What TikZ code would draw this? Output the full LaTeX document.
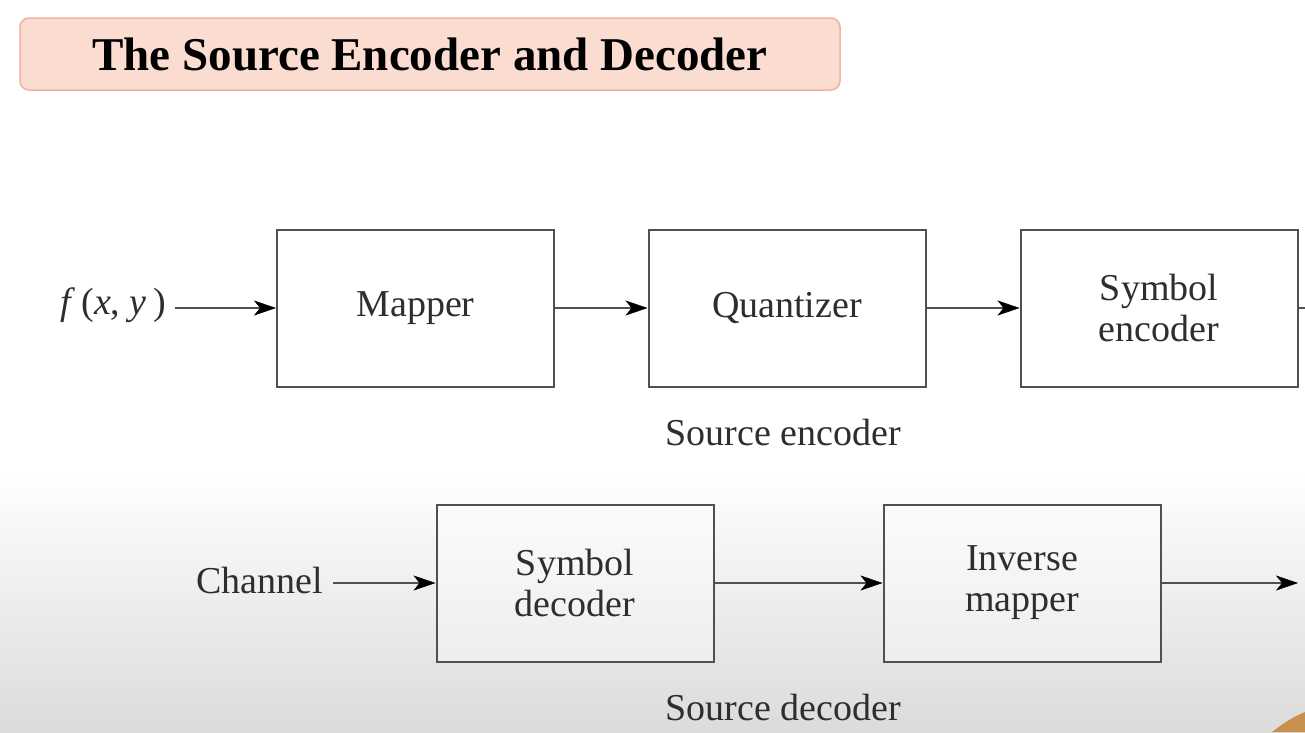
\documentclass[tikz,border=0pt]{standalone}
\usepackage{fontspec}
\setmainfont{Liberation Serif}
\usetikzlibrary{arrows.meta}
\definecolor{titlefill}{HTML}{FADCD0}
\definecolor{titleedge}{HTML}{EFB4A2}
\definecolor{linegray}{HTML}{505050}
\definecolor{textgray}{HTML}{2E2E2E}
\definecolor{cornerorange}{HTML}{C8904A}
\tikzset{
  blockbox/.style={draw=linegray, line width=2pt, fill=white, fill opacity=0.35, text opacity=1,
    minimum width=277pt, minimum height=157pt, align=center, text=textgray,
    font=\fontsize{38}{41}\selectfont, inner sep=0pt},
  flow/.style={draw=linegray, line width=2.2pt,
    -{Stealth[length=22pt,width=15pt,inset=6pt,color=black,fill=black,line width=0.5pt]}},
  plainlabel/.style={text=textgray, font=\fontsize{38}{41}\selectfont, inner sep=0pt},
  titlebox/.style={draw=titleedge, line width=1.5pt, fill=titlefill, rounded corners=9pt,
    minimum width=820pt, minimum height=72pt, inner sep=0pt,
    font=\fontsize{47}{50}\selectfont\bfseries}
}
\begin{document}
\begin{tikzpicture}[x=1pt,y=-1pt]
\useasboundingbox (0,0) rectangle (1305,732);
\fill[white] (0,0) rectangle (1305,732);
\shade[top color=white, bottom color=black!14] (0,470) rectangle (1305,732);
\fill[cornerorange] (1272,732) .. controls (1285,722) and (1295,716) .. (1305,712) -- (1305,732) -- cycle;

\node[titlebox] (title) at (430,54) {The Source Encoder and Decoder};

% top row
\node[blockbox] (mapper) at (415.5,308) {Mapper};
\node[blockbox] (quant) at (787,308) {Quantizer};
\node[blockbox] (symenc) at (1159,308) {Symbol\\encoder};
\node[plainlabel, anchor=east] (fxy) at (166,305) {\textit{f}\,(\textit{x}, \textit{y}\,)};
\node[plainlabel] (srcenc) at (783,432) {Source encoder};
\coordinate (fxystart) at (175,308);
\coordinate (encout) at (1305,308);

\draw[flow] (fxystart) -- (mapper.west);
\draw[flow] (mapper.east) -- (quant.west);
\draw[flow] (quant.east) -- (symenc.west);
\draw[draw=linegray, line width=2.2pt] (symenc.east) -- (encout);

% bottom row
\node[blockbox] (symdec) at (575,583) {Symbol\\decoder};
\node[blockbox] (invmap) at (1022,583) {Inverse\\mapper};
\node[plainlabel, anchor=east] (channel) at (323,580) {Channel};
\node[plainlabel] (srcdec) at (783,707) {Source decoder};
\coordinate (chstart) at (333,583);
\coordinate (decout) at (1298,583);

\draw[flow] (chstart) -- (symdec.west);
\draw[flow] (symdec.east) -- (invmap.west);
\draw[flow] (invmap.east) -- (decout);
\end{tikzpicture}
\end{document}
